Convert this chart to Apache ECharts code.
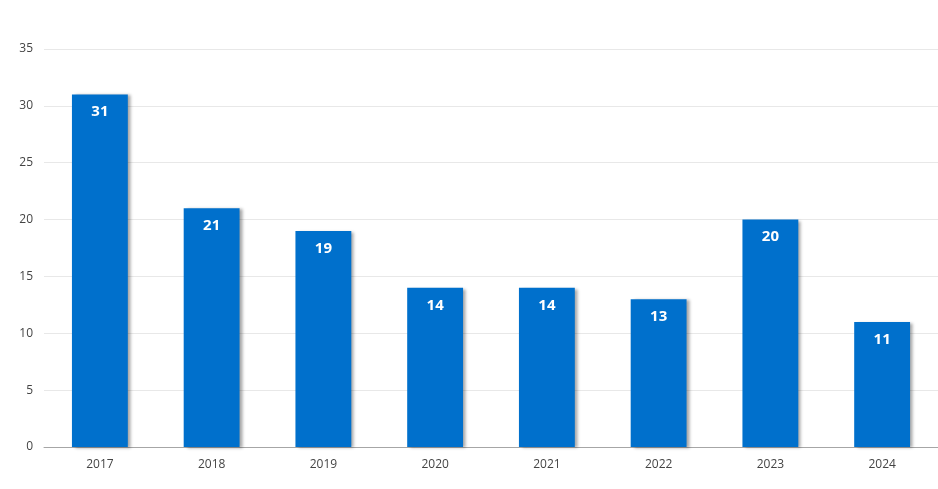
<!DOCTYPE html>
<html><head><meta charset="utf-8">
<script src="https://cdn.jsdelivr.net/npm/echarts@6/dist/echarts.min.js"></script>
<style>html,body{margin:0;padding:0;background:#fff}#c{width:938px;height:489px}</style>
</head><body><div id="c"></div>
<script>
const categories = ['2017','2018','2019','2020','2021','2022','2023','2024'];
const values = [31,21,19,14,14,13,20,11];
const yTicks = {min:0, max:35, interval:5};

const chart = echarts.init(document.getElementById('c'), null, {renderer:'canvas'});
chart.setOption({
  animation:false,
  textStyle:{fontFamily:'"Open Sans", sans-serif'},
  grid:{left:44, right:0, top:49, bottom:42, containLabel:false},
  xAxis:{type:'category', data:categories,
    axisLine:{lineStyle:{color:'#a6a6a6', width:1}}, axisTick:{show:false},
    axisLabel:{color:'#444', fontSize:12, margin:12, fontFamily:'"Open Sans", sans-serif'}},
  yAxis:{type:'value', min:yTicks.min, max:yTicks.max, interval:yTicks.interval,
    axisLine:{show:false}, axisTick:{show:false},
    splitLine:{lineStyle:{color:'#e8e8e8'}},
    axisLabel:{color:'#444', fontSize:12, margin:11, fontFamily:'"Open Sans", sans-serif'}},
  series:[{type:'bar', data:values, barWidth:'50%',
    itemStyle:{color:'#0070cc', shadowColor:'rgba(0,0,0,0.35)', shadowBlur:3, shadowOffsetX:3, shadowOffsetY:1},
    label:{show:true, position:'insideTop', distance:10, color:'#fff', fontSize:15, fontWeight:'bold', fontFamily:'"Open Sans", sans-serif'}}]
});
</script></body></html>
